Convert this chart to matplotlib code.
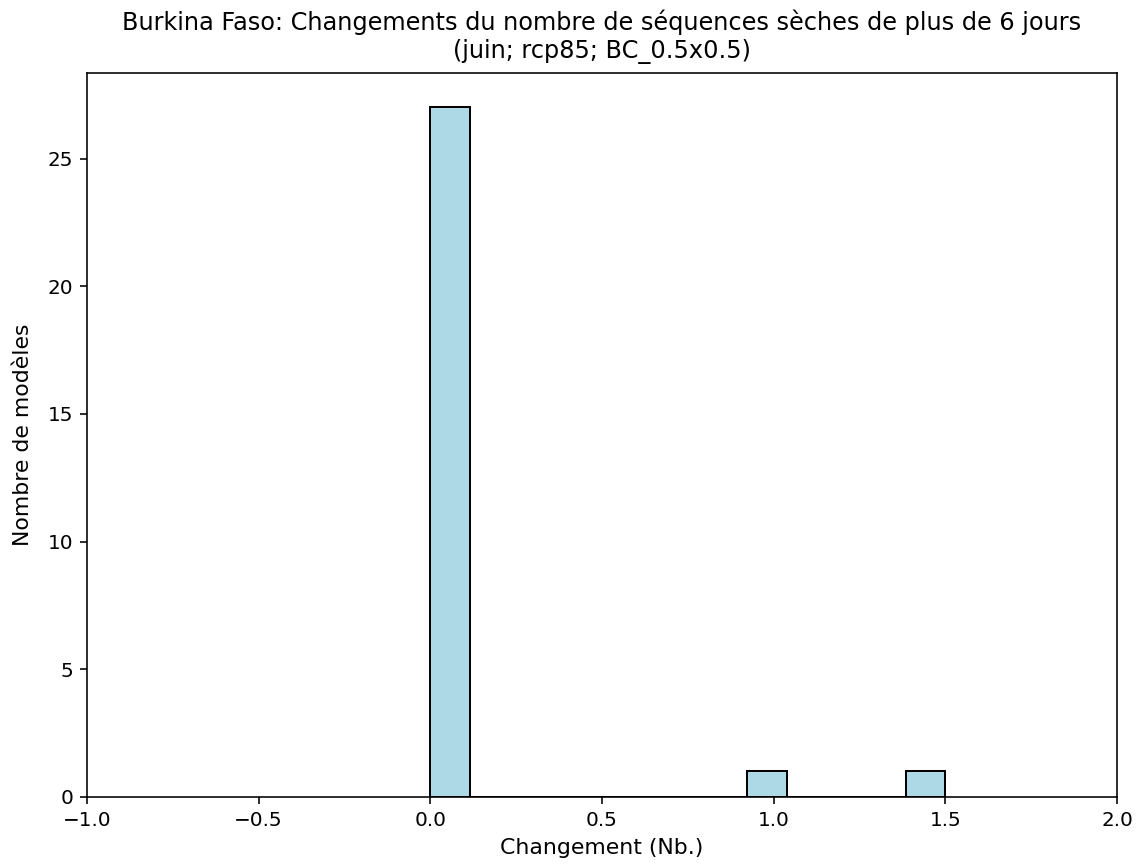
import matplotlib
matplotlib.use("Agg")
import matplotlib.pyplot as plt

# Changes per model (Nb.)
changes = [0.0] * 27 + [1.0, 1.5]
n_bins = 13
xlim = (-1.0, 2.0)

title = "Burkina Faso: Changements du nombre de séquences sèches de plus de 6 jours\n(juin; rcp85; BC_0.5x0.5)"
xlabel = "Changement (Nb.)"
ylabel = "Nombre de modèles"

DPI = 144
fig = plt.figure(figsize=(1138/DPI, 865/DPI), dpi=DPI)
ax = fig.add_axes([87/1138, 1 - 797/865, (1117-87)/1138, (797-73)/865])
ax.hist(changes, bins=n_bins, color="lightblue", edgecolor="black")
ax.set_xlim(*xlim)
ax.set_title(title, fontsize=12, pad=7.5)
ax.set_xlabel(xlabel, fontsize=11)
ax.set_ylabel(ylabel, fontsize=11, labelpad=7)
ax.tick_params(labelsize=10)
fig.savefig("out.png", dpi=DPI)
